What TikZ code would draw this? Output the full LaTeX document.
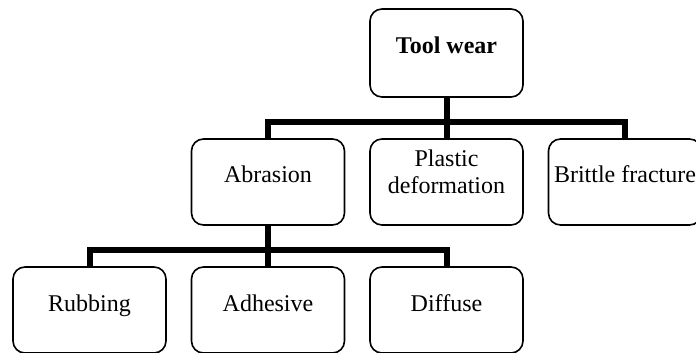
\documentclass[tikz,border=0pt]{standalone}
\usepackage{fontspec}
\setmainfont{Liberation Serif}
\begin{document}
\begin{tikzpicture}[x=0.5pt, y=-0.5pt]
    \tikzstyle{every node}=[rectangle, rounded corners=6pt, draw=black, line width=0.8pt, minimum width=76.5pt, minimum height=43pt, inner sep=2pt, font=\fontsize{12}{13.5}\selectfont, text height=8pt, text depth=7pt, align=center]
    \tikzstyle{edge}=[black, line width=3pt]

    \useasboundingbox (0,0) rectangle (696,353);

    \node (tool) at (446.5,53) [minimum height=44pt] {\textbf{Tool wear}};
    \node (abrasion) at (268,182) {Abrasion};
    \node (plastic) at (446.5,182) [text height=19pt, text depth=8pt] {Plastic\\deformation};
    \node (brittle) at (625,182) {Brittle fracture};
    \node (rubbing) at (89.5,310) {Rubbing};
    \node (adhesive) at (268,310) {Adhesive};
    \node (diffuse) at (446.5,310) {Diffuse};

    \coordinate (top) at (0,122);
    \coordinate (low) at (0,250);

    \draw[edge] (tool.south) -- (tool.south |- top);
    \draw[edge] (abrasion.north) -- (abrasion.north |- top) -- (brittle.north |- top) -- (brittle.north);
    \draw[edge] (plastic.north) -- (plastic.north |- top);

    \draw[edge] (abrasion.south) -- (abrasion.south |- low);
    \draw[edge] (rubbing.north) -- (rubbing.north |- low) -- (diffuse.north |- low) -- (diffuse.north);
    \draw[edge] (adhesive.north) -- (adhesive.north |- low);
\end{tikzpicture}
\end{document}
